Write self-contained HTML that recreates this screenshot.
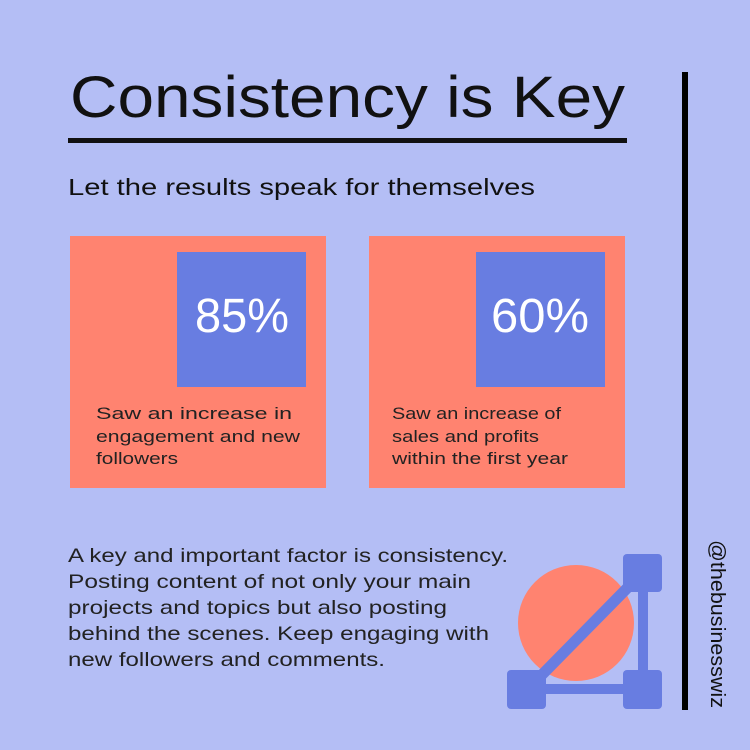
<!DOCTYPE html>
<html><head><meta charset="utf-8"><style>
html,body{margin:0;padding:0;background:#b4bef5;}
svg{display:block;font-family:"Liberation Sans",sans-serif;}
</style></head><body>
<svg width="750" height="750" viewBox="0 0 750 750" xmlns="http://www.w3.org/2000/svg">
<rect width="750" height="750" fill="#b4bef5"/>
<text x="70" y="117" font-size="58" fill="#111" textLength="555" lengthAdjust="spacingAndGlyphs">Consistency is Key</text>
<rect x="68" y="138" width="559" height="5" fill="#111"/>
<text x="68" y="195" font-size="23" fill="#111" textLength="467" lengthAdjust="spacingAndGlyphs">Let the results speak for themselves</text>
<rect x="682" y="72" width="6" height="638" fill="#000"/>
<text transform="translate(711,540) rotate(90)" font-size="20" fill="#111" textLength="168" lengthAdjust="spacingAndGlyphs">@thebusinesswiz</text>

<rect x="70" y="236" width="256" height="252" fill="#ff8370"/>
<rect x="177" y="252" width="129" height="135" fill="#687de1"/>
<text x="195" y="332" font-size="48" fill="#fff" textLength="94" lengthAdjust="spacingAndGlyphs">85%</text>
<g font-size="17" fill="#222">
<text x="96" y="419" textLength="196" lengthAdjust="spacingAndGlyphs">Saw an increase in</text>
<text x="96" y="442" textLength="204" lengthAdjust="spacingAndGlyphs">engagement and new</text>
<text x="96" y="464" textLength="82" lengthAdjust="spacingAndGlyphs">followers</text>
</g>

<rect x="369" y="236" width="256" height="252" fill="#ff8370"/>
<rect x="476" y="252" width="129" height="135" fill="#687de1"/>
<text x="491" y="332" font-size="48" fill="#fff" textLength="98" lengthAdjust="spacingAndGlyphs">60%</text>
<g font-size="17" fill="#222">
<text x="392" y="419" textLength="169" lengthAdjust="spacingAndGlyphs">Saw an increase of</text>
<text x="392" y="442" textLength="147" lengthAdjust="spacingAndGlyphs">sales and profits</text>
<text x="392" y="464" textLength="176" lengthAdjust="spacingAndGlyphs">within the first year</text>
</g>

<g font-size="19.5" fill="#222">
<text x="68" y="562" textLength="440" lengthAdjust="spacingAndGlyphs">A key and important factor is consistency.</text>
<text x="68" y="588" textLength="403" lengthAdjust="spacingAndGlyphs">Posting content of not only your main</text>
<text x="68" y="614" textLength="379" lengthAdjust="spacingAndGlyphs">projects and topics but also posting</text>
<text x="68" y="640" textLength="421" lengthAdjust="spacingAndGlyphs">behind the scenes. Keep engaging with</text>
<text x="68" y="666" textLength="317" lengthAdjust="spacingAndGlyphs">new followers and comments.</text>
</g>

<circle cx="576" cy="623" r="58" fill="#ff8370"/>
<g fill="#687de1">
<rect x="638" y="580" width="10" height="100"/>
<rect x="530" y="684" width="100" height="10"/>
<line x1="527" y1="690" x2="642" y2="573" stroke="#687de1" stroke-width="11"/>
<rect x="623" y="554" width="39" height="38" rx="4"/>
<rect x="507" y="670" width="39" height="39" rx="4"/>
<rect x="623" y="670" width="39" height="39" rx="4"/>
</g>
</svg>
</body></html>
